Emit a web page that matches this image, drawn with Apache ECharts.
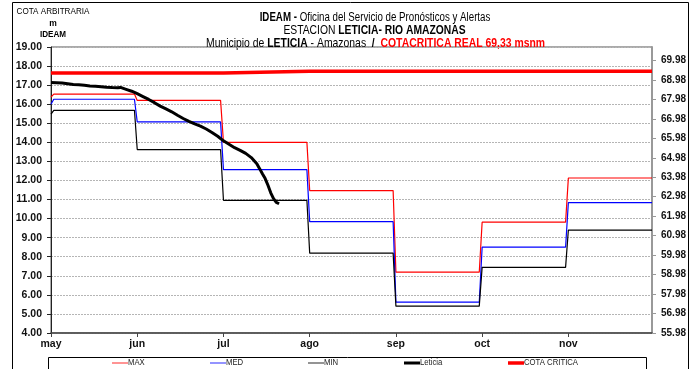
<!DOCTYPE html>
<html>
<head>
<meta charset="utf-8">
<script src="https://cdn.jsdelivr.net/npm/echarts@6/dist/echarts.min.js"></script>
<style>
  html, body { margin: 0; padding: 0; background: #fff; }
  #chart { width: 700px; height: 369px; }
</style>
</head>
<body>
<div id="chart"></div>
<script>
// Month axis: each month gets the same width
const months = ['may', 'jun', 'jul', 'ago', 'sep', 'oct', 'nov'];
const monthDays = [31, 30, 31, 31, 30, 31, 30];
const xEnd = 6.97;

// Monthly reference levels (cota arbitraria, m)
const maxValues = [16.53, 16.20, 14.00, 11.47, 7.19, 9.81, 12.13];
const medValues = [16.26, 15.07, 12.57, 9.84, 5.62, 8.50, 10.84];
const minValues = [15.68, 13.62, 10.96, 8.19, 5.41, 7.44, 9.40];
// May 1st opening value of MAX, MED, MIN
const openingValues = [16.37, 16.00, 15.48];

// Critical level, msnm (right axis)
const cotaCritica = [69.33, 69.33, 69.42, 69.42, 69.42, 69.42, 69.42];

// Observed levels at Leticia
const leticiaDates = [
  '05-01','05-03','05-05','05-07','05-09','05-11','05-13','05-15','05-17','05-19',
  '05-21','05-23','05-25','05-26','05-28','05-30','06-01','06-03','06-05','06-07',
  '06-09','06-11','06-13','06-15','06-17','06-19','06-21','06-23','06-25','06-27',
  '06-29','07-01','07-03','07-05','07-07','07-09','07-11','07-13','07-14','07-15',
  '07-16','07-17','07-18','07-19','07-20','07-21'
];
const leticiaValues = [
  17.14, 17.13, 17.11, 17.07, 17.03, 17.02, 16.99, 16.96, 16.94, 16.92,
  16.89, 16.87, 16.86, 16.88, 16.78, 16.68, 16.55, 16.40, 16.25, 16.08,
  15.90, 15.75, 15.60, 15.42, 15.25, 15.10, 14.97, 14.85, 14.70, 14.52,
  14.32, 14.08, 13.90, 13.72, 13.58, 13.42, 13.20, 12.88, 12.62, 12.35,
  12.10, 11.75, 11.35, 11.05, 10.85, 10.78
];

// Right axis labels (msnm)
const rightTicks = [55.98, 56.98, 57.98, 58.98, 59.98, 60.98, 61.98, 62.98,
                    63.98, 64.98, 65.98, 66.98, 67.98, 68.98, 69.98];

function datePos(mmdd) {
  const [mm, dd] = mmdd.split('-').map(Number);
  const idx = mm - 5;
  return idx + (dd - 1) / monthDays[idx];
}

// Monthly step line, changing level over one day at each month boundary
function stepLine(values, opening) {
  const pts = [[0, opening]];
  values.forEach((v, m) => {
    const start = m === 0 ? 1 / monthDays[0] : m;
    const end = m === values.length - 1 ? xEnd : m + 1 - 1 / monthDays[m];
    pts.push([start, v], [end, v]);
  });
  return pts;
}

// One point per month start, drawn as a hard step
function monthStarts(values) {
  return values.map((v, m) => [m, v]).concat([[xEnd, values[values.length - 1]]]);
}

const FONT = "'Liberation Sans', Arial, sans-serif";

const seriesStyle = [
  { name: 'MAX', color: '#ff0000', width: 1.2, key: '#ff7070', keyWidth: 1.5, keyX: 112 },
  { name: 'MED', color: '#0000ff', width: 1.2, key: '#7070ff', keyWidth: 1.5, keyX: 210 },
  { name: 'MIN', color: '#000000', width: 1.2, key: '#707070', keyWidth: 1.5, keyX: 308 },
  { name: 'Leticia', color: '#000000', width: 3, key: '#000000', keyWidth: 3, keyX: 404 },
  { name: 'COTA CRITICA', color: '#ff0000', width: 3.5, key: '#ff0000', keyWidth: 3.5, keyX: 508 }
];

// Narrowed text helper (condensed look)
function narrowText(x, y, text, rich, sx) {
  return {
    type: 'text', x: x, y: y, scaleX: sx, silent: true,
    style: { text: text, rich: rich, align: 'center', verticalAlign: 'middle' }
  };
}

const richTitle = (size) => ({
  b: { fontFamily: FONT, fontWeight: 'bold', fontSize: size, fill: '#000' },
  n: { fontFamily: FONT, fontSize: size, fill: '#000' },
  r: { fontFamily: FONT, fontWeight: 'bold', fontSize: size, fill: '#ff0000' }
});

const legendGraphics = [];
seriesStyle.forEach(s => {
  legendGraphics.push({
    type: 'line', silent: true,
    shape: { x1: s.keyX, y1: 363, x2: s.keyX + 16, y2: 363 },
    style: { stroke: s.key, lineWidth: s.keyWidth }
  });
  legendGraphics.push({
    type: 'text', silent: true, x: s.keyX + 16, y: 363, scaleX: 0.86,
    style: { text: s.name, font: '9px ' + FONT, fill: '#222', align: 'left', verticalAlign: 'middle' }
  });
});

const chart = echarts.init(document.getElementById('chart'), null, { renderer: 'canvas' });

chart.setOption({
  animation: false,
  backgroundColor: '#fff',
  grid: {
    left: 51, right: 48, top: 47, bottom: 36,
    show: true, borderColor: '#555', borderWidth: 1,
    containLabel: false, outerBoundsMode: 'none'
  },
  xAxis: {
    type: 'value', min: 0, max: xEnd, interval: 1,
    axisLine: { show: true, lineStyle: { color: '#444', width: 1.5 } },
    axisTick: { show: true, length: 4, lineStyle: { color: '#444' } },
    splitLine: { show: false },
    axisLabel: {
      margin: 6, fontFamily: FONT, fontWeight: 'bold', fontSize: 10.5, color: '#111',
      showMaxLabel: false,
      formatter: v => (Number.isInteger(v) && months[v]) ? months[v] : ''
    }
  },
  yAxis: [
    {
      type: 'value', min: 4, max: 19, interval: 1,
      axisLine: { show: true, lineStyle: { color: '#222', width: 1 } },
      axisTick: { show: true, length: 4, lineStyle: { color: '#222' } },
      splitLine: { show: true, lineStyle: { color: '#b5b5b5', type: [2, 1], width: 1 } },
      axisLabel: {
        margin: 9, fontFamily: FONT, fontWeight: 'bold', fontSize: 10.5, color: '#111',
        formatter: v => v.toFixed(2)
      }
    },
    {
      type: 'value', position: 'right', min: 55.98, max: 70.67,
      axisLine: { show: true, lineStyle: { color: '#999', width: 2 } },
      axisTick: { show: true, length: 4, lineStyle: { color: '#999' }, customValues: rightTicks },
      splitLine: { show: false },
      axisLabel: {
        margin: 9, fontFamily: FONT, fontWeight: 'bold', fontSize: 10, color: '#111',
        customValues: rightTicks,
        formatter: v => Number(v).toFixed(2)
      }
    }
  ],
  series: [
    { name: 'MAX', type: 'line', symbol: 'none', data: stepLine(maxValues, openingValues[0]),
      lineStyle: { color: seriesStyle[0].color, width: seriesStyle[0].width } },
    { name: 'MED', type: 'line', symbol: 'none', data: stepLine(medValues, openingValues[1]),
      lineStyle: { color: seriesStyle[1].color, width: seriesStyle[1].width } },
    { name: 'MIN', type: 'line', symbol: 'none', data: stepLine(minValues, openingValues[2]),
      lineStyle: { color: seriesStyle[2].color, width: seriesStyle[2].width } },
    { name: 'Leticia', type: 'line', symbol: 'none', z: 5,
      data: leticiaDates.map((d, i) => [datePos(d), leticiaValues[i]]),
      lineStyle: { color: seriesStyle[3].color, width: seriesStyle[3].width } },
    { name: 'COTA CRITICA', type: 'line', symbol: 'none', yAxisIndex: 1, step: 'end',
      data: monthStarts(cotaCritica),
      lineStyle: { color: seriesStyle[4].color, width: seriesStyle[4].width } }
  ],
  graphic: [
    { type: 'rect', silent: true, z: -1,
      shape: { x: 12.5, y: 2.5, width: 676, height: 380 },
      style: { fill: 'none', stroke: '#000', lineWidth: 1 } },
    { type: 'rect', silent: true, z: -1,
      shape: { x: 48.5, y: 357.5, width: 598, height: 30 },
      style: { fill: 'none', stroke: '#000', lineWidth: 1 } },
    narrowText(375, 18, '{b|IDEAM -} {n|Oficina del Servicio de Pronósticos y Alertas}', richTitle(12), 0.81),
    narrowText(374.5, 31, '{n|ESTACION }{b|LETICIA- RIO AMAZONAS}', richTitle(12), 0.86),
    narrowText(375.5, 43.5, '{n|Municipio de }{b|LETICIA}{n| - Amazonas  }{b|/  }{r|COTACRITICA REAL 69,33 msnm}', richTitle(13), 0.80),
    { type: 'text', x: 53, y: 12, silent: true, scaleX: 0.9,
      style: { text: 'COTA ARBITRARIA', font: '9px ' + FONT, fill: '#000', align: 'center', verticalAlign: 'middle' } },
    { type: 'text', x: 53, y: 24, silent: true,
      style: { text: 'm', font: 'bold 8.5px ' + FONT, fill: '#000', align: 'center', verticalAlign: 'middle' } },
    { type: 'text', x: 53, y: 35, silent: true, scaleX: 0.9,
      style: { text: 'IDEAM', font: 'bold 9px ' + FONT, fill: '#000', align: 'center', verticalAlign: 'middle' } }
  ].concat(legendGraphics)
});
</script>
</body>
</html>
